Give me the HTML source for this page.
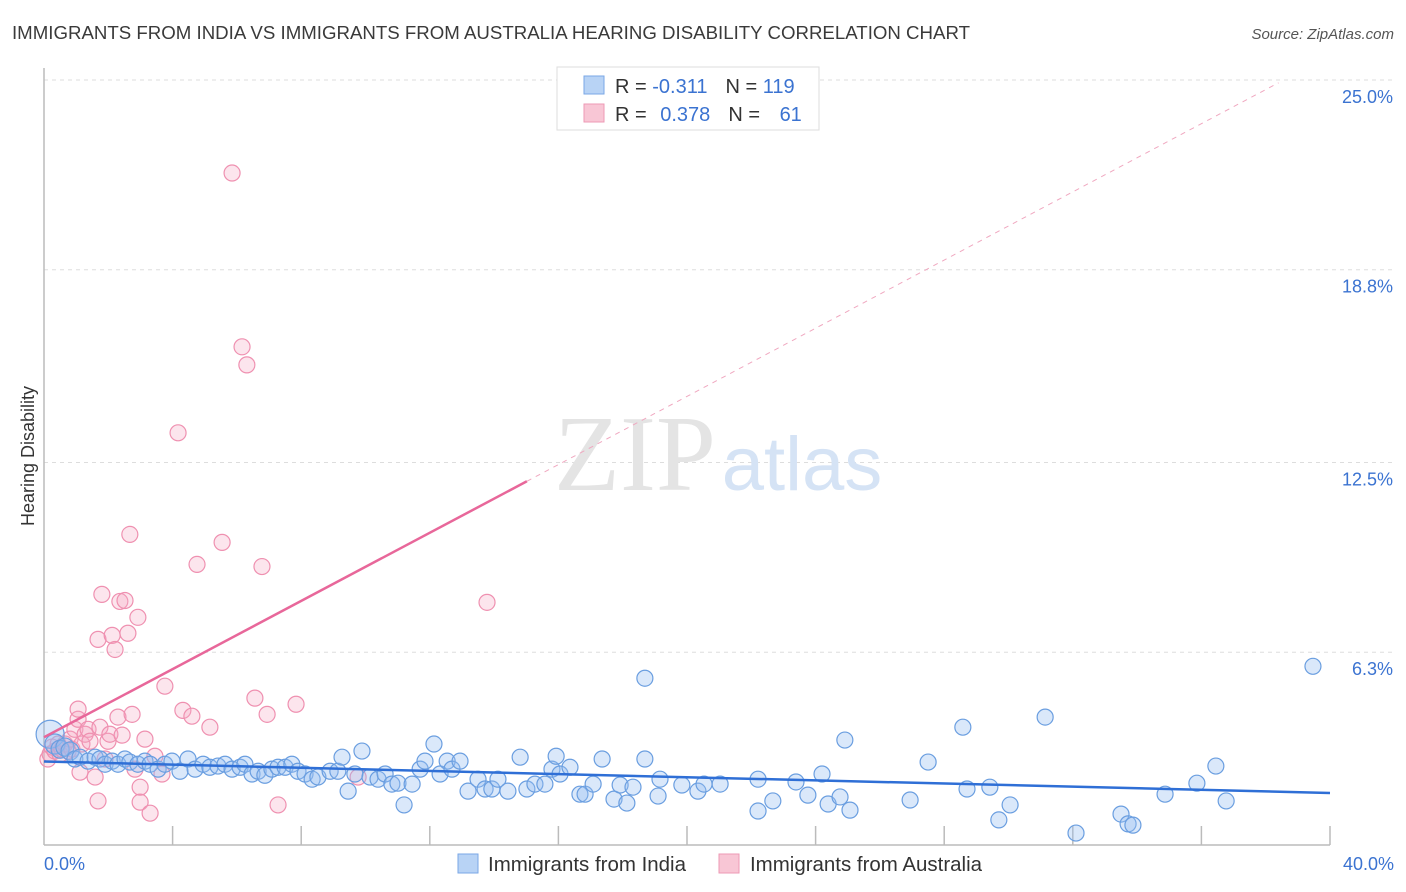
<!DOCTYPE html>
<html><head><meta charset="utf-8"><style>
body{margin:0;background:#fff;font-family:"Liberation Sans",sans-serif}
svg{display:block}
</style></head><body>
<svg id="chart" width="1406" height="892">
<text x="12" y="39" font-size="18" fill="#3a3a3a" textLength="958" lengthAdjust="spacingAndGlyphs">IMMIGRANTS FROM INDIA VS IMMIGRANTS FROM AUSTRALIA HEARING DISABILITY CORRELATION CHART</text>
<text x="1394" y="39" font-size="15" fill="#555" font-style="italic" text-anchor="end">Source: ZipAtlas.com</text>
<g id="grid"></g>
<text x="635" y="490" font-size="108" fill="#e4e4e4" font-family="Liberation Serif" text-anchor="middle">ZIP</text>
<text x="802" y="490" font-size="76" fill="#d5e3f5" text-anchor="middle">atlas</text>
<text transform="translate(34,456) rotate(-90)" font-size="18" fill="#333" text-anchor="middle">Hearing Disability</text>
<g id="marks"></g>
<g>
<rect x="557" y="67" width="262" height="63" fill="#fff" stroke="#ddd"/>
<rect x="584" y="76" width="20" height="18" fill="#b8d3f5" stroke="#7aa7e6"/>
<rect x="584" y="104" width="20" height="18" fill="#f8c6d5" stroke="#ee99b5"/>
<text x="615" y="93" font-size="20" fill="#333">R = <tspan fill="#3b73d1">-0.311</tspan><tspan dx="18">N = </tspan><tspan fill="#3b73d1">119</tspan></text>
<text x="615" y="121" font-size="20" fill="#333">R = <tspan dx="8" fill="#3b73d1">0.378</tspan><tspan dx="18">N = </tspan><tspan dx="14" fill="#3b73d1">61</tspan></text>
</g>
<g>
<rect x="458" y="854" width="20" height="19" fill="#b8d3f5" stroke="#7aa7e6"/>
<text x="488" y="871" font-size="20" fill="#333" textLength="198" lengthAdjust="spacingAndGlyphs">Immigrants from India</text>
<rect x="719" y="854" width="20" height="19" fill="#f8c6d5" stroke="#ee99b5"/>
<text x="750" y="871" font-size="20" fill="#333" textLength="232" lengthAdjust="spacingAndGlyphs">Immigrants from Australia</text>
</g>
</svg>
<script>
const yTicks=[25.0,18.8,12.5,6.3];
const yTickLabels=["25.0%","18.8%","12.5%","6.3%"];
const xTickLabels=["0.0%","40.0%"];
const indiaX=[0.19,0.34,0.5,0.65,0.81,0.96,1.12,1.37,1.59,1.74,1.9,2.12,2.3,2.52,2.67,2.92,3.14,3.3,3.55,3.76,3.98,4.23,4.48,4.7,4.95,5.16,5.41,5.63,5.85,6.1,6.25,6.47,6.66,6.87,7.09,7.28,7.5,7.71,7.9,8.12,8.34,8.52,8.9,9.14,9.27,9.46,9.67,9.89,10.14,10.39,10.61,10.82,11.01,11.2,11.45,11.7,11.85,12.13,12.32,12.54,12.69,12.94,13.19,13.5,13.72,13.93,14.12,14.43,14.81,15.02,15.27,15.58,15.8,15.93,16.05,16.36,16.67,16.83,17.08,17.36,17.73,17.92,18.13,18.32,18.69,18.69,19.1,19.16,19.84,20.34,20.53,21.03,22.21,22.21,22.67,23.39,23.76,24.2,24.39,24.76,24.91,25.07,26.94,27.5,28.58,28.71,29.42,29.7,30.05,31.14,32.1,33.5,33.72,33.87,34.87,35.86,36.45,36.77,39.47];
const indiaY=[3.62,3.3,3.13,3.2,3.07,2.81,2.87,2.74,2.87,2.81,2.64,2.74,2.64,2.81,2.71,2.64,2.74,2.64,2.48,2.64,2.74,2.41,2.81,2.48,2.64,2.54,2.58,2.64,2.48,2.54,2.64,2.32,2.41,2.28,2.48,2.54,2.54,2.64,2.41,2.32,2.15,2.22,2.41,2.41,2.87,1.76,2.32,3.07,2.22,2.15,2.32,1.99,2.02,1.31,1.99,2.48,2.74,3.3,2.32,2.74,2.48,2.74,1.76,2.15,1.83,1.83,2.15,1.76,2.87,1.83,1.99,1.99,2.48,2.9,2.32,2.54,1.66,1.66,1.99,2.81,1.5,1.96,1.37,1.89,2.81,5.45,1.6,2.15,1.96,1.76,1.99,1.99,2.15,1.11,1.44,2.06,1.63,2.32,1.34,1.57,3.43,1.14,1.47,2.71,3.85,1.83,1.89,0.82,1.31,4.18,0.39,1.01,0.69,0.65,1.66,2.02,2.58,1.44,5.84];
const indiaR=[14,10,9,9,9,8,8,8,8,8,8,8,8,8,8,8,8,8,8,8,8,8,8,8,8,8,8,8,8,8,8,8,8,8,8,8,8,8,8,8,8,8,8,8,8,8,8,8,8,8,8,8,8,8,8,8,8,8,8,8,8,8,8,8,8,8,8,8,8,8,8,8,8,8,8,8,8,8,8,8,8,8,8,8,8,8,8,8,8,8,8,8,8,8,8,8,8,8,8,8,8,8,8,8,8,8,8,8,8,8,8,8,8,8,8,8,8,8,8];
const ausX=[0.12,0.19,0.25,0.34,0.44,0.5,0.56,0.65,0.75,0.81,0.87,0.96,1.06,1.06,1.12,1.18,1.28,1.37,1.43,1.59,1.68,1.68,1.74,1.8,1.9,1.99,2.05,2.12,2.21,2.3,2.36,2.43,2.52,2.61,2.67,2.74,2.83,2.92,2.99,2.99,3.14,3.3,3.45,3.67,3.76,4.17,4.32,4.6,4.76,5.16,5.54,5.85,6.16,6.31,6.56,6.78,6.94,7.28,7.84,9.77,13.78];
const ausY=[2.81,2.97,3.2,3.07,3.3,2.97,3.13,3.3,3.07,3.46,3.13,3.78,4.11,4.44,2.38,3.3,3.62,3.78,3.39,2.22,1.44,6.72,3.85,8.19,2.81,3.39,3.62,6.85,6.39,4.18,7.96,3.59,7.99,6.92,10.15,4.27,2.48,7.44,1.4,1.89,3.46,1.04,2.9,2.32,5.19,13.47,4.4,4.21,9.17,3.85,9.89,21.96,16.28,15.69,4.8,9.1,4.27,1.31,4.6,2.22,7.93];
const indiaTrend=[2.73,1.7];
const ausTrend=[3.52,0.557];
const NS='http://www.w3.org/2000/svg';
const X0=44,X1=1330,Y0=845,Y1=80;
function sx(v){return X0+v/40*(X1-X0);}
function sy(v){return Y0-v/25*(Y0-Y1);}
function mk(tag,attrs,parent){const e=document.createElementNS(NS,tag);for(const k in attrs)e.setAttribute(k,attrs[k]);parent.appendChild(e);return e;}
const grid=document.getElementById('grid'),marks=document.getElementById('marks');
yTicks.forEach((t,i)=>{
 const l=mk('line',{x1:X0,x2:1394,y1:sy(t),y2:sy(t),stroke:'#ddd','stroke-dasharray':'4,4'},grid);
 
 
 const tx=mk('text',{x:1393,y:sy(t)+23,'font-size':18,fill:'#3b73d1','text-anchor':'end'},grid);
 tx.textContent=yTickLabels[i];
 
 
});
const ax=mk('line',{x1:X0,x2:X1,y1:Y0,y2:Y0,stroke:'#bbb','stroke-width':1.5},grid);


const ay=mk('line',{x1:X0,x2:X0,y1:68,y2:Y0,stroke:'#bbb','stroke-width':1.5},grid);


for(let i=1;i<=10;i++){const t=mk('line',{x1:sx(i*4),x2:sx(i*4),y1:826,y2:Y0,stroke:'#bbb','stroke-width':1.5},grid);
 
 }
[[0,'start',44],[40,'end',1394]].forEach((a,i)=>{const t=mk('text',{x:a[2],y:870,'font-size':18,fill:'#3b73d1','text-anchor':a[1]},grid);t.textContent=xTickLabels[i];
 
 });
ausX.forEach((x,i)=>{const c=mk('circle',{cx:sx(x),cy:sy(ausY[i]),r:8,fill:'rgba(245,170,195,0.3)',stroke:'#ef90b0','stroke-width':1.2},marks);
 
 });
indiaX.forEach((x,i)=>{const c=mk('circle',{cx:sx(x),cy:sy(indiaY[i]),r:indiaR[i],fill:'rgba(150,190,240,0.35)',stroke:'#6a9ee0','stroke-width':1.2},marks);
 
 });
const bt=mk('line',{x1:sx(0),y1:sy(indiaTrend[0]),x2:sx(40),y2:sy(indiaTrend[1]),stroke:'#2f6fd6','stroke-width':2.5},marks);


const pt=mk('line',{x1:sx(0),y1:sy(ausTrend[0]),x2:sx(15.02),y2:sy(ausTrend[0]+ausTrend[1]*15.02),stroke:'#e8679a','stroke-width':2.5},marks);


const pd=mk('line',{x1:sx(15.02),y1:sy(ausTrend[0]+ausTrend[1]*15.02),x2:sx(38.4),y2:sy(ausTrend[0]+ausTrend[1]*38.4),stroke:'#f0a8c0','stroke-width':1,'stroke-dasharray':'5,5'},marks);


</script>
</body></html>
